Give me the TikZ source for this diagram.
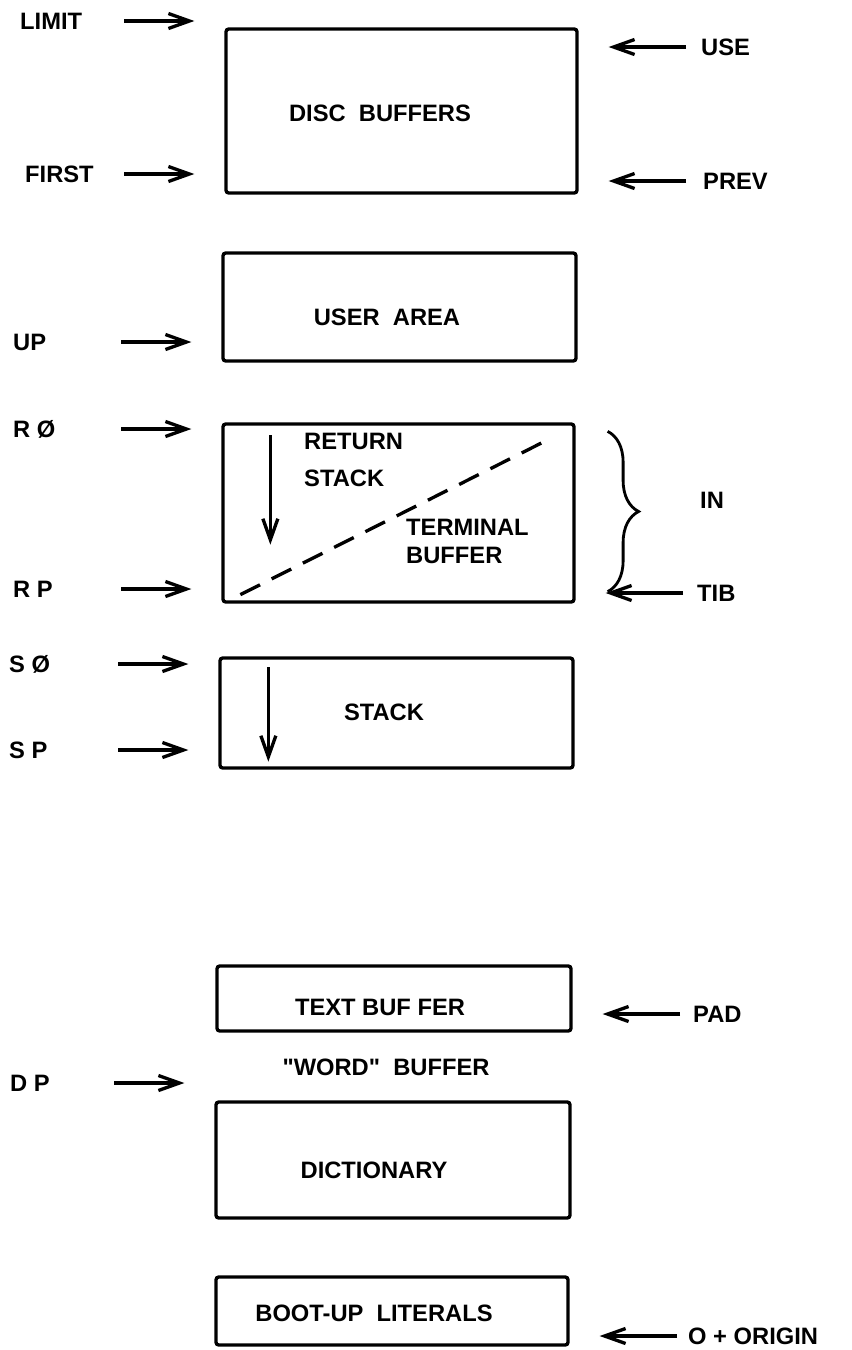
\documentclass[tikz,border=0pt]{standalone}
\usepackage{fontspec}
\setmainfont{Liberation Sans}
\usetikzlibrary{arrows.meta, decorations.pathreplacing}

\begin{document}
\begin{tikzpicture}[x=0.02cm, y=-0.02cm,
    box/.style={draw, line width=1.9pt, rounded corners=1.5pt, inner sep=0pt},
    txt/.style={font=\bfseries\fontsize{13.5}{16}\selectfont},
    lbl/.style={txt, anchor=west},
    ptr/.style={-{Straight Barb[length=0.42cm, width=0.3cm]}, line width=1.9pt}
  ]
  \useasboundingbox (0,0) rectangle (852,1350);

  % memory areas, high to low
  \node[box, minimum width=7.02cm, minimum height=3.28cm] (disc) at (401.5,111) {};
  \node[box, minimum width=7.06cm, minimum height=2.16cm] (user) at (399.5,307) {};
  \node[box, minimum width=7.02cm, minimum height=3.56cm] (ret) at (398.5,513) {};
  \node[box, minimum width=7.06cm, minimum height=2.20cm] (stk) at (396.5,713) {};
  \node[box, minimum width=7.08cm, minimum height=1.30cm] (tbuf) at (394,998.5) {};
  \node[box, minimum width=7.08cm, minimum height=2.32cm] (dict) at (393,1160) {};
  \node[box, minimum width=7.04cm, minimum height=1.36cm] (boot) at (392,1311) {};

  \node[txt] (disc-t) at (380,113) {DISC\ \ BUFFERS};
  \node[txt] (user-t) at (387,317) {USER\ \ AREA};
  \node[txt, align=left, anchor=west] (ret-t) at (298,460) {RETURN\\[5pt]STACK};
  \node[txt, align=left, anchor=west] (term-t) at (400,541) {TERMINAL\\BUFFER};
  \node[txt] (stk-t) at (384,712) {STACK};
  \node[txt] (tbuf-t) at (380,1007) {TEXT BUF FER};
  \node[txt] (word-t) at (386,1067) {\textquotedbl WORD\textquotedbl\ \ BUFFER};
  \node[txt] (dict-t) at (374,1170) {DICTIONARY};
  \node[txt] (boot-t) at (374,1313) {BOOT-UP\ \ LITERALS};

  % pointer names
  \node[lbl] (limit) at (14,21) {LIMIT};
  \node[lbl] (first) at (19,174) {FIRST};
  \node[lbl] (up) at (7,342) {UP};
  \node[lbl] (rzero) at (7,429) {R Ø};
  \node[lbl] (rp) at (7,589) {R P};
  \node[lbl] (szero) at (3,664) {S Ø};
  \node[lbl] (sp) at (3,750) {S P};
  \node[lbl] (dp) at (4,1083) {D P};
  \node[lbl] (use) at (695,47) {USE};
  \node[lbl] (prev) at (697,181) {PREV};
  \node[lbl] (in) at (694,500) {IN};
  \node[lbl] (tib) at (691,593) {TIB};
  \node[lbl] (pad) at (687,1014) {PAD};
  \node[lbl] (origin) at (682,1336) {O + ORIGIN};

  \draw[ptr] ([xshift=-2cm]disc.west |- limit) -- ([xshift=-0.6cm]disc.west |- limit);
  \draw[ptr] ([xshift=-2cm]disc.west |- first) -- ([xshift=-0.6cm]disc.west |- first);
  \draw[ptr] ([xshift=-2cm]user.west |- up) -- ([xshift=-0.6cm]user.west |- up);
  \draw[ptr] ([xshift=-2cm]ret.west |- rzero) -- ([xshift=-0.6cm]ret.west |- rzero);
  \draw[ptr] ([xshift=-2cm]ret.west |- rp) -- ([xshift=-0.6cm]ret.west |- rp);
  \draw[ptr] ([xshift=-2cm]stk.west |- szero) -- ([xshift=-0.6cm]stk.west |- szero);
  \draw[ptr] ([xshift=-2cm]stk.west |- sp) -- ([xshift=-0.6cm]stk.west |- sp);
  \draw[ptr] ([xshift=-2cm]dict.west |- dp) -- ([xshift=-0.6cm]dict.west |- dp);
  \draw[ptr] ([xshift=2.15cm]disc.east |- use) -- ([xshift=0.6cm]disc.east |- use);
  \draw[ptr] ([xshift=2.15cm]disc.east |- prev) -- ([xshift=0.6cm]disc.east |- prev);
  \draw[ptr] ([xshift=2.15cm]ret.east |- tib) -- ([xshift=0.6cm]ret.east |- tib);
  \draw[ptr] ([xshift=2.15cm]tbuf.east |- pad) -- ([xshift=0.6cm]tbuf.east |- pad);
  \draw[ptr] ([xshift=2.15cm]boot.east |- origin) -- ([xshift=0.6cm]boot.east |- origin);

  % stacks grow downward
  \draw[ptr] ([xshift=0.98cm, yshift=-0.26cm]ret.north west) -- ([xshift=0.98cm, yshift=1.18cm]ret.south west);
  \draw[ptr] ([xshift=1cm, yshift=-0.22cm]stk.north west) -- ([xshift=1cm, yshift=0.16cm]stk.south west);
  \draw[line width=1.9pt, dash pattern=on 0.44cm off 0.26cm] ([xshift=0.38cm, yshift=0.18cm]ret.south west) -- ([xshift=-0.46cm, yshift=-0.3cm]ret.north east);
  \draw[line width=1.6pt, decorate, decoration={brace, amplitude=0.62cm}] ([xshift=0.64cm, yshift=-0.18cm]ret.north east) -- ([xshift=0.64cm, yshift=0.24cm]ret.south east);
\end{tikzpicture}
\end{document}
